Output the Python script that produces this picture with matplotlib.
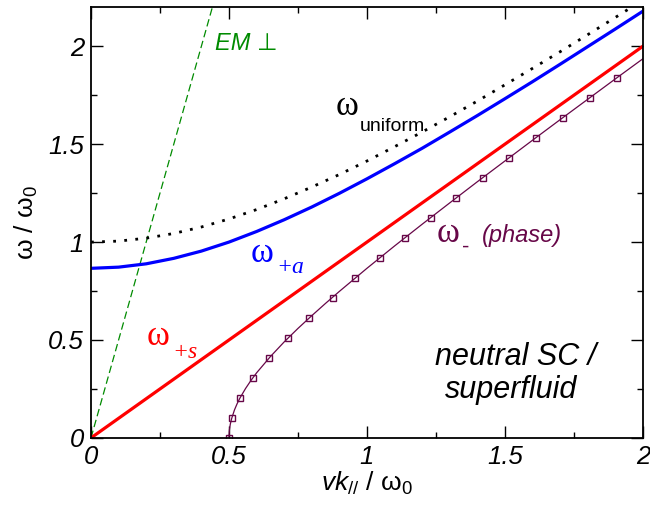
import numpy as np
import matplotlib
matplotlib.use("Agg")
import matplotlib.pyplot as plt
from matplotlib.ticker import MultipleLocator
from matplotlib import font_manager

plt.rcParams['font.family'] = ['Liberation Sans', 'DejaVu Sans']
plt.rcParams['mathtext.fontset'] = 'custom'
plt.rcParams['mathtext.rm'] = 'Liberation Sans'
plt.rcParams['mathtext.it'] = 'Liberation Sans:italic'
plt.rcParams['mathtext.sf'] = 'Liberation Sans'

# curves (x = v k_par / w0, y = w / w0)
x_uni = [0, 0.1, 0.2, 0.3, 0.4, 0.5, 0.6, 0.7, 0.8, 0.9, 1.0,
         1.1, 1.2, 1.3, 1.4, 1.5, 1.6, 1.7, 1.8, 1.9, 2.0]
y_uni = [1.0, 1.005, 1.02, 1.044, 1.077, 1.118, 1.166, 1.221, 1.281, 1.345, 1.414,
         1.487, 1.562, 1.64, 1.72, 1.803, 1.887, 1.972, 2.059, 2.147, 2.236]

x_pa = [0, 0.1, 0.2, 0.3, 0.4, 0.5, 0.6, 0.7, 0.8, 0.9, 1.0,
        1.1, 1.2, 1.3, 1.4, 1.5, 1.6, 1.7, 1.8, 1.9, 2.0]
y_pa = [0.866, 0.872, 0.889, 0.917, 0.954, 1.0, 1.054, 1.114, 1.179, 1.249, 1.323,
        1.4, 1.479, 1.562, 1.646, 1.732, 1.819, 1.908, 1.998, 2.088, 2.179]

x_ps = [0, 2.0]
y_ps = [0, 2.0]

x_em = [0, 0.5]
y_em = [0, 2.5]

x_ph = [0.5, 0.501, 0.502, 0.505, 0.51, 0.52, 0.53, 0.54, 0.56, 0.58, 0.6, 0.65,
        0.7, 0.75, 0.8, 0.85, 0.9, 1.0, 1.1, 1.2, 1.3, 1.4, 1.5, 1.6, 1.7, 1.8,
        1.9, 2.0]
y_ph = [0, 0.032, 0.045, 0.071, 0.1, 0.143, 0.176, 0.204, 0.252, 0.294, 0.332,
        0.415, 0.49, 0.559, 0.624, 0.687, 0.748, 0.866, 0.98, 1.091, 1.2, 1.308,
        1.414, 1.52, 1.625, 1.729, 1.833, 1.936]

# square markers on the phase branch
x_mk = [0.5, 0.511, 0.541, 0.586, 0.645, 0.715, 0.79, 0.876, 0.957, 1.046,
        1.139, 1.231, 1.324, 1.419, 1.516, 1.612, 1.709, 1.807, 1.906]
y_mk = [0, 0.102, 0.204, 0.306, 0.408, 0.51, 0.612, 0.714, 0.816, 0.918,
        1.02, 1.122, 1.224, 1.327, 1.429, 1.531, 1.633, 1.735, 1.837]

tick_vals = [0, 0.5, 1, 1.5, 2]
tick_text = ['0', '0.5', '1', '1.5', '2']

blue = '#0000ff'
red = '#ff0000'
green = '#008b00'
purple = '#670748'

fig = plt.figure(figsize=(6.5, 5.08), dpi=100)
ax = fig.add_axes([0.14, 0.138, 0.849, 0.848])

ax.plot(x_em, y_em, color=green, lw=0.9, ls=(0, (6, 3)))
ax.plot(x_uni, y_uni, color='black', lw=2.0, ls=(0, (1, 3)))
ax.plot(x_pa, y_pa, color=blue, lw=2.3)
ax.plot(x_ps, y_ps, color=red, lw=2.3)
ax.plot(x_ph, y_ph, color=purple, lw=0.9)
ax.plot(x_mk, y_mk, ls='none', marker='s', ms=4.5, mfc='none', mec=purple, mew=1.0)

ax.set_xlim(0, 2)
ax.set_ylim(0, 2.2)
ax.xaxis.set_minor_locator(MultipleLocator(0.25))
ax.yaxis.set_minor_locator(MultipleLocator(0.25))
ax.tick_params(which='both', direction='in', top=True, right=True, width=1)
ax.tick_params(which='major', length=8.5, pad=5)
ax.tick_params(which='minor', length=4.5)

# italic tick labels from the italic font file itself
ital_path = font_manager.findfont(
    font_manager.FontProperties(family='Liberation Sans', style='italic'))
tick_fp = font_manager.FontProperties(fname=ital_path, size=18.5)
ax.set_xticks(tick_vals)
ax.set_xticklabels(tick_text, fontproperties=tick_fp)
ax.set_yticks(tick_vals)
ax.set_yticklabels(tick_text, fontproperties=tick_fp)
for s in ax.spines.values():
    s.set_linewidth(1.3)

ax.set_xlabel(r"$vk_{//}\ /\ \mathrm{\omega}_0$", fontsize=19, labelpad=1)
ax.set_ylabel(r"$\mathrm{\omega}\ /\ \mathrm{\omega}_0$", fontsize=19, labelpad=6)

# curve labels
serif = 'Liberation Serif'
ax.text(0.885, 1.648, "ω", family=serif, fontsize=25, color='black')
ax.text(0.975, 1.566, "uniform", fontsize=14, color='black')

ax.text(0.578, 0.898, "ω", family=serif, fontsize=25, color=blue)
ax.text(0.670, 0.842, "+a", family=serif, style='italic', fontsize=17, color=blue)

ax.text(0.200, 0.474, "ω", family=serif, fontsize=25, color=red)
ax.text(0.293, 0.408, "+s", family=serif, style='italic', fontsize=17, color=red)

ax.text(1.252, 1.0, "ω", family=serif, fontsize=25, color=purple)
ax.text(1.343, 0.945, "-", fontsize=16, color=purple)
ax.text(1.417, 1.0, "(phase)", style='italic', fontsize=17, color=purple)

ax.text(0.449, 2.015, "EM ⊥", style='italic', fontsize=17, color=green, va='center')

ax.text(1.540, 0.372, "neutral SC /", style='italic', fontsize=22, ha='center')
ax.text(1.522, 0.204, "superfluid", style='italic', fontsize=22, ha='center')

fig.canvas.draw()
for lab in ax.get_xticklabels() + ax.get_yticklabels():
    lab.set_fontproperties(tick_fp)

fig.savefig("out.png", dpi=100)
